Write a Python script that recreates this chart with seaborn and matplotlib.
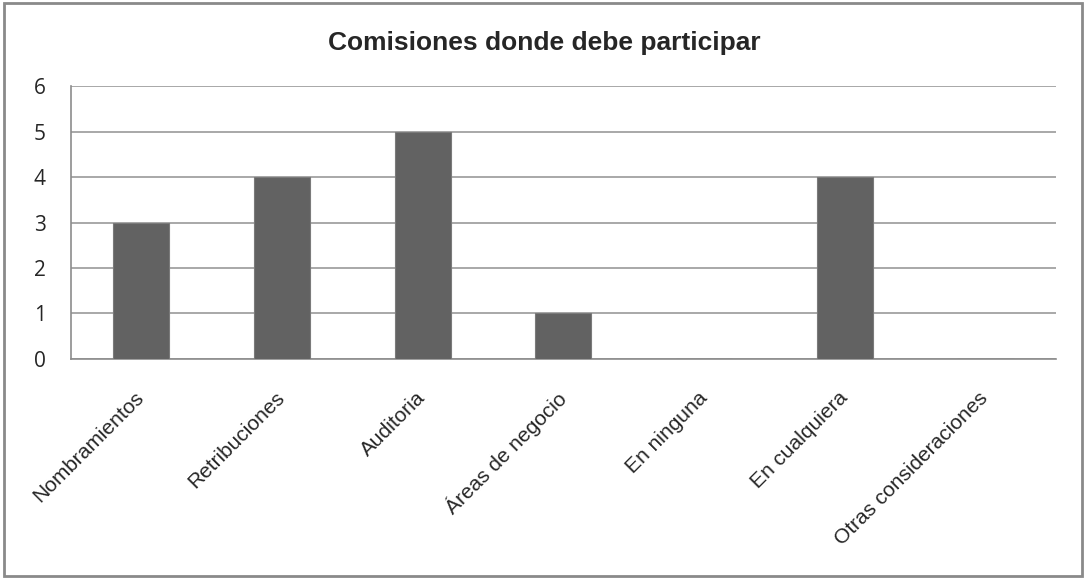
import matplotlib
matplotlib.use("Agg")
import matplotlib.pyplot as plt
import seaborn as sns
import pandas as pd
from matplotlib.patches import Rectangle

# datos
categorias = ["Nombramientos", "Retribuciones", "Auditoria", "Áreas de negocio",
              "En ninguna", "En cualquiera", "Otras consideraciones"]
valores = [3, 4, 5, 1, 0, 4, 0]
ticks_y = [0, 1, 2, 3, 4, 5, 6]
titulo = "Comisiones donde debe participar"

df = pd.DataFrame({"categoria": categorias, "valor": valores})

sns.set_theme(style="white")
plt.rcParams["font.family"] = ["Liberation Sans", "DejaVu Sans"]

fig = plt.figure(figsize=(10.85, 5.78), dpi=100)
ax = fig.add_axes([0.0654, 0.379, 0.9076, 0.472])

sns.barplot(data=df, x="categoria", y="valor", color="#626262", saturation=1,
            width=0.4, edgecolor="#7a7a7a", linewidth=0.8, ax=ax, zorder=3)

ax.set_ylim(0, 6)
ax.set_yticks(ticks_y)
ax.set_yticklabels([str(t) for t in ticks_y], fontsize=15, family="Open Sans")
ax.yaxis.grid(True, color="#9a9a9a", linewidth=1.2, zorder=0)
ax.set_axisbelow(True)
ax.tick_params(axis="both", length=0)
ax.tick_params(axis="y", pad=18)
ax.set_xlabel("")
ax.set_ylabel("")

for lbl in ax.get_xticklabels():
    lbl.set_rotation(45)
    lbl.set_ha("right")
    lbl.set_va("center")
    lbl.set_rotation_mode("anchor")
    lbl.set_fontsize(15)
ax.tick_params(axis="x", pad=26)

for s in ["top", "right"]:
    ax.spines[s].set_visible(False)
for s in ["left", "bottom"]:
    ax.spines[s].set_color("#8c8c8c")
    ax.spines[s].set_linewidth(1.2)

fig.text(0.502, 0.926, titulo, ha="center", va="center", fontsize=19,
         fontweight="bold")

# marco del grafico
fig.patches.append(Rectangle((0.004, 0.003), 0.993, 0.992, transform=fig.transFigure,
                             fill=False, edgecolor="#8a8a8a", linewidth=2))

fig.savefig("out.png", dpi=100)
